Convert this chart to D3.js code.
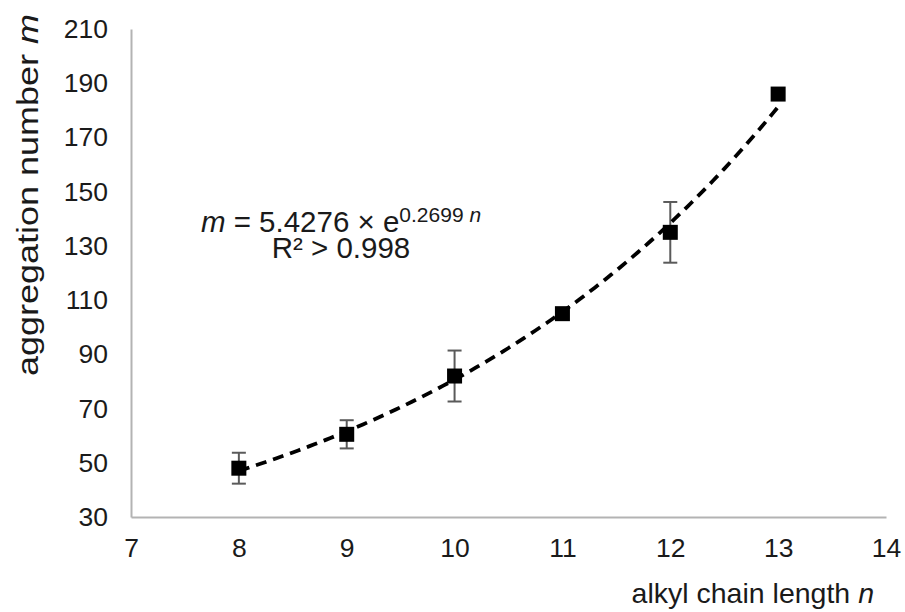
<!DOCTYPE html>
<html>
<head>
<meta charset="utf-8">
<script src="https://cdn.jsdelivr.net/npm/d3@7"></script>
<style>
  body { margin: 0; background: #fff; }
  svg { display: block; font-family: "Liberation Sans", Arial, sans-serif; }
</style>
</head>
<body>
<svg id="chart" width="905" height="612"></svg>
<script>
'use strict';

// chart data
var chainLength = [8, 9, 10, 11, 12, 13];
var aggNumber = [48, 60.5, 82, 105, 135, 186];
var aggError = [5.7, 5.2, 9.4, 0, 11.2, 0];

// tick labels
var xTicks = [7, 8, 9, 10, 11, 12, 13, 14];
var yTicks = [30, 50, 70, 90, 110, 130, 150, 170, 190, 210];

// exponential fit shown on the chart: m = a * exp(b * n)
var fitA = 5.4276;
var fitB = 0.2699;

var svg = d3.select('#chart');

var x = d3.scaleLinear().domain([7, 14]).range([131, 886]);
var y = d3.scaleLinear().domain([30, 210]).range([517, 29]);

var axisColor = '#b3b3b3';
var textColor = '#1a1a1a';

// axes
var yAxis = svg.append('g')
  .attr('transform', 'translate(' + x(7) + ',0)')
  .call(d3.axisLeft(y).tickValues(yTicks).tickFormat(d3.format('d')).tickSize(0).tickPadding(23));

var xAxis = svg.append('g')
  .attr('transform', 'translate(0,' + y(30) + ')')
  .call(d3.axisBottom(x).tickValues(xTicks).tickFormat(d3.format('d')).tickSize(0).tickPadding(21));

[xAxis, yAxis].forEach(function (ax) {
  ax.select('.domain').attr('stroke', axisColor).attr('stroke-width', 2);
  ax.selectAll('text')
    .attr('fill', textColor)
    .style('font-size', '26.5px')
    .style('font-family', '"Liberation Sans", Arial, sans-serif');
});

// axis titles (the y title is drawn wider along its length, as in the figure)
svg.append('text')
  .attr('transform', 'translate(38,195) rotate(-90) scale(1.2,1)')
  .attr('text-anchor', 'middle')
  .attr('fill', textColor)
  .style('font-size', '30px')
  .text('aggregation number ')
  .append('tspan').style('font-style', 'italic').text('m');

svg.append('text')
  .attr('x', 874)
  .attr('y', 603)
  .attr('text-anchor', 'end')
  .attr('fill', textColor)
  .style('font-size', '28.5px')
  .text('alkyl chain length ')
  .append('tspan').style('font-style', 'italic').text('n');

// trend line from the fit equation
var fitLine = d3.line()
  .x(function (d) { return x(d); })
  .y(function (d) { return y(fitA * Math.exp(fitB * d)); });

var fitN = d3.range(chainLength[0], chainLength[chainLength.length - 1] + 0.001, 0.05);

var pts = chainLength.map(function (n, i) {
  return { n: n, m: aggNumber[i], e: aggError[i] };
});

// error bars
var bars = svg.append('g').attr('class', 'error-bars')
  .attr('stroke', '#5a5a5a').attr('stroke-width', 2)
  .selectAll('g').data(pts.filter(function (d) { return d.e > 0; }))
  .enter().append('g');

bars.append('line')
  .attr('x1', function (d) { return x(d.n); })
  .attr('x2', function (d) { return x(d.n); })
  .attr('y1', function (d) { return y(d.m - d.e); })
  .attr('y2', function (d) { return y(d.m + d.e); });

[-1, 1].forEach(function (s) {
  bars.append('line')
    .attr('x1', function (d) { return x(d.n) - 7; })
    .attr('x2', function (d) { return x(d.n) + 7; })
    .attr('y1', function (d) { return y(d.m + s * d.e); })
    .attr('y2', function (d) { return y(d.m + s * d.e); });
});

// markers
var size = 15;
svg.append('g').attr('class', 'markers')
  .selectAll('rect').data(pts)
  .enter().append('rect')
  .attr('x', function (d) { return x(d.n) - size / 2; })
  .attr('y', function (d) { return y(d.m) - size / 2; })
  .attr('width', size)
  .attr('height', size)
  .attr('fill', '#000');

svg.append('path')
  .datum(fitN)
  .attr('d', fitLine)
  .attr('fill', 'none')
  .attr('stroke', '#000')
  .attr('stroke-width', 3.8)
  .attr('stroke-dasharray', '11,7');

// equation label
var eq = svg.append('text')
  .attr('x', 341)
  .attr('y', 232)
  .attr('text-anchor', 'middle')
  .attr('fill', textColor)
  .style('font-size', '29.5px');
eq.append('tspan').style('font-style', 'italic').text('m');
eq.append('tspan').text(' = 5.4276 \u00d7 e');
eq.append('tspan').attr('dy', -10).style('font-size', '21px').text('0.2699 ');
eq.append('tspan').style('font-size', '21px').style('font-style', 'italic').text('n');

svg.append('text')
  .attr('x', 341)
  .attr('y', 258)
  .attr('text-anchor', 'middle')
  .attr('fill', textColor)
  .style('font-size', '29.5px')
  .text('R\u00b2 > 0.998');
</script>
</body>
</html>
